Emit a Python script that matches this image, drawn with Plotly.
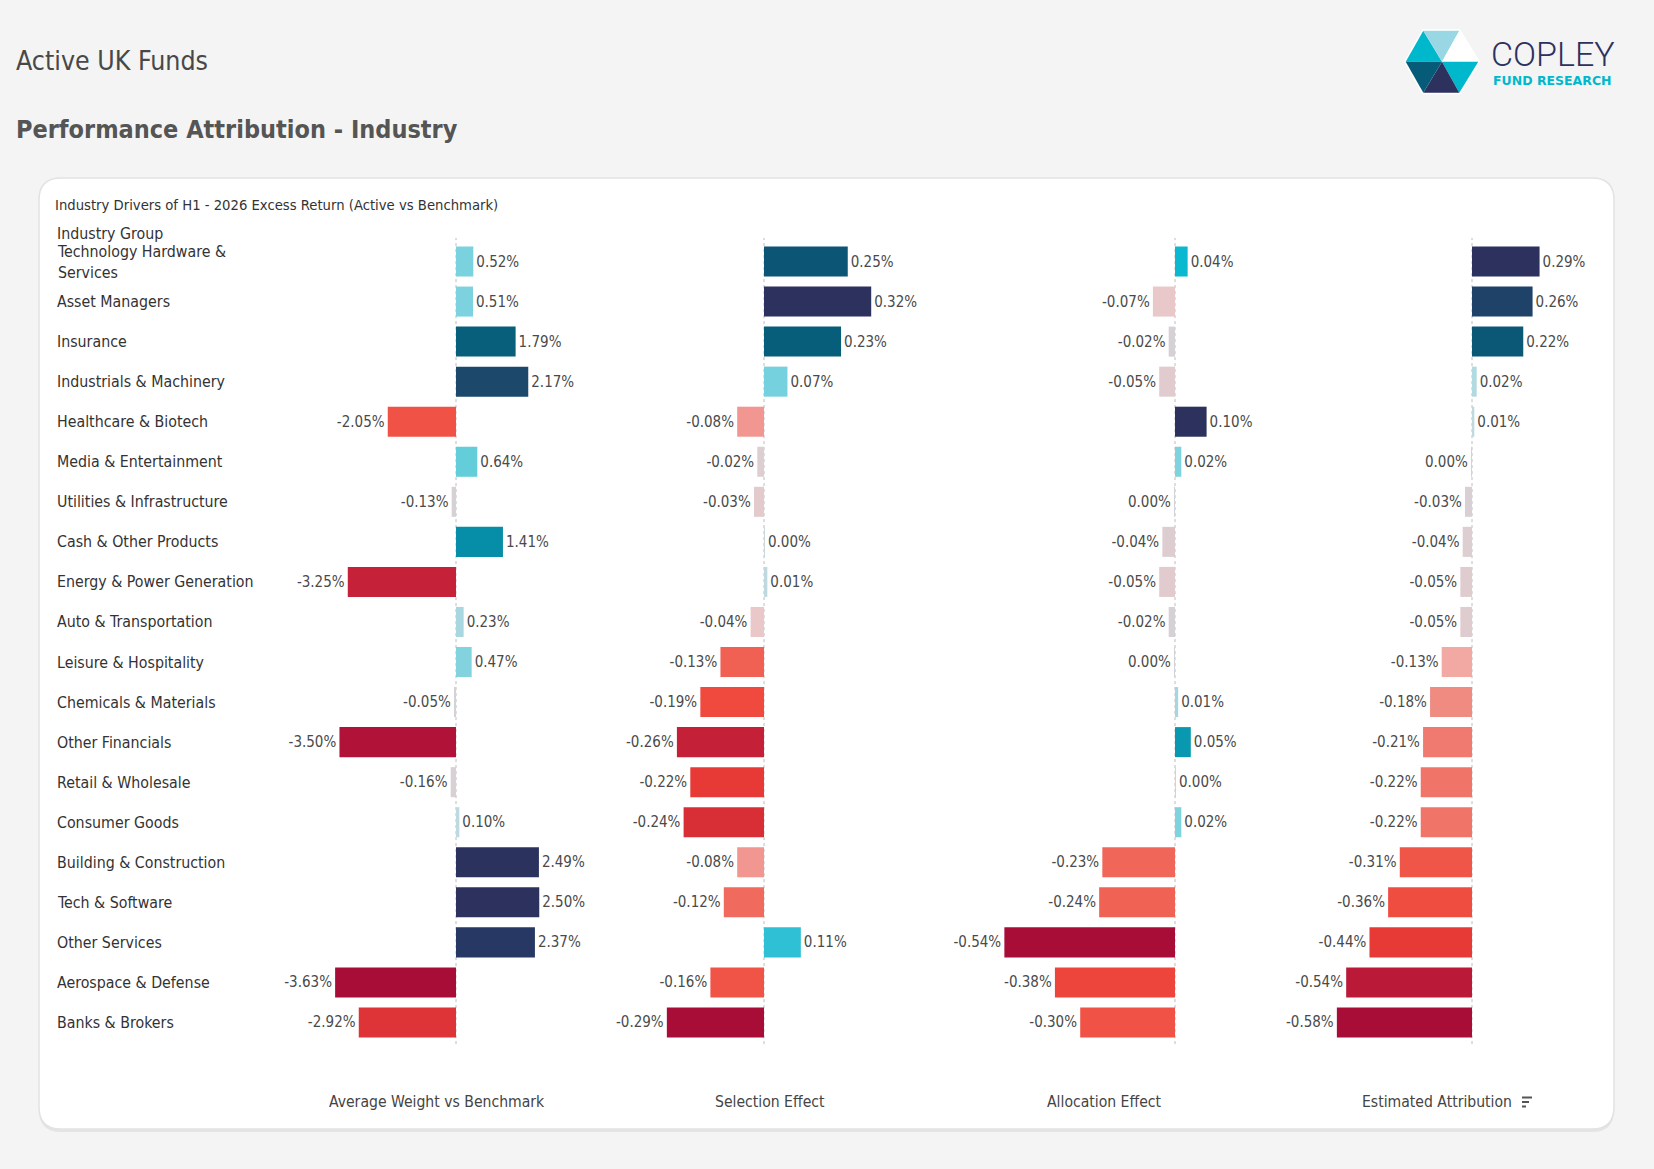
import plotly.graph_objects as go

# Row labels, top to bottom
industries = [
    "Technology Hardware &<br>Services", "Asset Managers", "Insurance",
    "Industrials & Machinery", "Healthcare & Biotech", "Media & Entertainment",
    "Utilities & Infrastructure", "Cash & Other Products", "Energy & Power Generation",
    "Auto & Transportation", "Leisure & Hospitality", "Chemicals & Materials",
    "Other Financials", "Retail & Wholesale", "Consumer Goods",
    "Building & Construction", "Tech & Software", "Other Services",
    "Aerospace & Defense", "Banks & Brokers",
]

# Values in % (tiny values keep the side the label sits on)
avg_weight = [0.52, 0.51, 1.79, 2.17, -2.05, 0.64, -0.13, 1.41, -3.25, 0.23,
              0.47, -0.05, -3.50, -0.16, 0.10, 2.49, 2.50, 2.37, -3.63, -2.92]
selection = [0.25, 0.32, 0.23, 0.07, -0.08, -0.02, -0.03, 0.002, 0.01, -0.04,
             -0.13, -0.19, -0.26, -0.22, -0.24, -0.08, -0.12, 0.11, -0.16, -0.29]
allocation = [0.04, -0.07, -0.02, -0.05, 0.10, 0.02, -0.002, -0.04, -0.05, -0.02,
              -0.002, 0.01, 0.05, 0.002, 0.02, -0.23, -0.24, -0.54, -0.38, -0.30]
estimated = [0.29, 0.26, 0.22, 0.02, 0.01, -0.003, -0.03, -0.04, -0.05, -0.05,
             -0.13, -0.18, -0.21, -0.22, -0.22, -0.31, -0.36, -0.44, -0.54, -0.58]

measures = ["Average Weight vs Benchmark", "Selection Effect",
            "Allocation Effect", "Estimated Attribution"]

W, H = 1654, 1169
FONT = "DejaVu Sans Condensed"


def px(x):
    return x / W


def py(y):
    return 1 - y / H


# diverging palette, negative side (0 = near zero, 1 = most negative)
neg_stops = [(0.00, "#d2d2d8"), (0.05, "#d8d0d4"), (0.10, "#e2cacd"), (0.15, "#ecc6c7"),
             (0.22, "#f2aaa6"), (0.30, "#f08e86"), (0.38, "#f07468"), (0.45, "#f06052"),
             (0.55, "#f05446"), (0.68, "#f0483c"), (0.78, "#e43636"), (0.85, "#d32c38"),
             (0.92, "#bd1b38"), (1.00, "#a80d38")]
pos_stops = [(0.00, "#cdd6da"), (0.04, "#bcdae0"), (0.10, "#a6d7e0"), (0.20, "#7ed3df"),
             (0.27, "#5ecbd9"), (0.34, "#32c1d5"), (0.40, "#0ab8cf"), (0.50, "#0898b0"),
             (0.57, "#068ca6"), (0.72, "#075e7a"), (0.80, "#0f5272"), (0.88, "#1d466a"),
             (0.95, "#263863"), (1.00, "#2c315e")]


def diverging(vmin, vmax):
    z = -vmin / (vmax - vmin)
    scale = [[z * (1 - t), c] for t, c in reversed(neg_stops)]
    scale[-1][0] = z - 1e-6
    scale += [[z + (1 - z) * t, c] for t, c in pos_stops]
    return scale


def fmt(v):
    s = f"{v:.2f}%"
    return "0.00%" if s == "-0.00%" else s


# pane layout in pixels: (left, right, zero position, px per unit)
panes = [(270, 603, 456, 33.3), (603, 937, 764, 335), (937, 1270, 1175, 316), (1270, 1604, 1472, 233)]
series = [avg_weight, selection, allocation, estimated]
header_x = [437, 770, 1104, 1437]

fig = go.Figure()
for i, vals in enumerate(series):
    ax = "" if i == 0 else str(i + 1)
    fig.add_trace(go.Bar(
        x=vals, y=industries, orientation="h", xaxis="x" + ax, yaxis="y",
        marker=dict(color=vals, colorscale=diverging(min(vals), max(vals)),
                    cmin=min(vals), cmax=max(vals), line=dict(width=0)),
        text=[fmt(v) for v in vals], textposition="outside", textangle=0,
        constraintext="none", cliponaxis=False,
        textfont=dict(family=FONT, size=15, color="#4a4a4a"),
        hovertemplate="%{y}<br>" + measures[i] + ": %{text}<extra></extra>",
        showlegend=False,
    ))

layout = dict(
    width=W, height=H, margin=dict(l=0, r=0, t=0, b=0),
    paper_bgcolor="#f4f4f4", plot_bgcolor="rgba(0,0,0,0)",
    bargap=0.25,
    font=dict(family=FONT, color="#333333"),
    yaxis=dict(domain=[py(1042.5), py(239.5)], type="category", autorange="reversed",
               showticklabels=False, showgrid=False, zeroline=False, fixedrange=True),
)
for i, (l, r, z, k) in enumerate(panes):
    key = "xaxis" if i == 0 else f"xaxis{i + 1}"
    layout[key] = dict(domain=[px(l), px(r)], range=[(l - z) / k, (r - z) / k],
                       anchor="y", showticklabels=False, showgrid=False,
                       zeroline=False, fixedrange=True)
fig.update_layout(**layout)

shapes = []
# card background with rounded corners
x0, x1, y0, y1, rr = 39, 1614, 178, 1129, 22


def card(dx, dy):
    a, b, c, d = px(x0 + dx), px(x1 + dx), py(y0 + dy), py(y1 + dy)
    rx, ry = rr / W, rr / H
    return (f"M {a + rx},{c} L {b - rx},{c} Q {b},{c} {b},{c - ry} "
            f"L {b},{d + ry} Q {b},{d} {b - rx},{d} L {a + rx},{d} Q {a},{d} {a},{d + ry} "
            f"L {a},{c - ry} Q {a},{c} {a + rx},{c} Z")


shapes.append(dict(type="path", path=card(0, 3), xref="paper", yref="paper",
                   fillcolor="#e4e4e4", line=dict(width=0), layer="below"))
shapes.append(dict(type="path", path=card(0, 0), xref="paper", yref="paper",
                   fillcolor="white", line=dict(color="#e2e2e2", width=1.5), layer="below"))

# dotted zero lines
for i in range(4):
    ax = "x" if i == 0 else f"x{i + 1}"
    shapes.append(dict(type="line", xref=ax, yref="y domain", x0=0, x1=0, y0=-0.002, y1=1.002,
                       line=dict(color="#bcbcbc", width=1, dash="dot"), layer="below"))

# logo hexagon
cx, cy = 1442, 61.7
hexv = [(1405.7, 61.7), (1423.3, 30.7), (1459.3, 30.7), (1478.3, 61.7), (1459.3, 92.7), (1423.3, 92.7)]
tri_colors = ["#00b8cc", "#9ad7e4", "#ffffff", "#00b8cc", "#2c315e", "#065c78"]
hex_path = "M " + " L ".join(f"{px(x)},{py(y)}" for x, y in hexv) + " Z"
shapes.append(dict(type="path", path=hex_path, xref="paper", yref="paper",
                   fillcolor="white", line=dict(color="white", width=3)))
for j, col in enumerate(tri_colors):
    a, b = hexv[j], hexv[(j + 1) % 6]
    p = f"M {px(cx)},{py(cy)} L {px(a[0])},{py(a[1])} L {px(b[0])},{py(b[1])} Z"
    shapes.append(dict(type="path", path=p, xref="paper", yref="paper",
                       fillcolor=col, line=dict(width=0)))

# sort icon next to the last header
for k, wdt in enumerate([10, 7, 4]):
    yy = 1097.5 + k * 4.5
    shapes.append(dict(type="line", xref="paper", yref="paper",
                       x0=px(1522), x1=px(1522 + wdt), y0=py(yy), y1=py(yy),
                       line=dict(color="#555555", width=2)))

annotations = [
    dict(text="Active UK Funds", x=px(14), y=py(60), font=dict(size=26.5, color="#484848")),
    dict(text="Performance Attribution - Industry", x=px(14), y=py(130),
         font=dict(size=25, color="#555555", weight="bold")),
    dict(text="Industry Drivers of H1 - 2026 Excess Return (Active vs Benchmark)",
         x=px(53), y=py(204), font=dict(size=14.7, color="#333333")),
    dict(text="Industry Group", x=px(55), y=py(233), font=dict(size=15.8, color="#333333")),
    dict(text="COPLEY", x=px(1489), y=py(53.5), font=dict(family="Roboto", size=34, color="#2c315e", weight=300)),
    dict(text="FUND RESEARCH", x=px(1491), y=py(80.5),
         font=dict(family="DejaVu Sans", size=12.5, color="#00b8cc", weight="bold")),
]
for a in annotations:
    a.update(xref="paper", yref="paper", xanchor="left", yanchor="middle", showarrow=False)

for name in industries:
    annotations.append(dict(text=name, x=px(55), y=name, xref="paper", yref="y",
                            xanchor="left", yanchor="middle", align="left", showarrow=False,
                            font=dict(size=15.8, color="#333333")))

for name, hx in zip(measures, header_x):
    annotations.append(dict(text=name, x=px(hx), y=py(1102), xref="paper", yref="paper",
                            xanchor="center", yanchor="middle", showarrow=False,
                            font=dict(size=15.6, color="#444444")))

fig.update_layout(shapes=shapes, annotations=annotations)

fig.write_html("out.html", config={"displayModeBar": False},
               post_script="document.body.style.margin='0';document.body.style.overflow='hidden';")
